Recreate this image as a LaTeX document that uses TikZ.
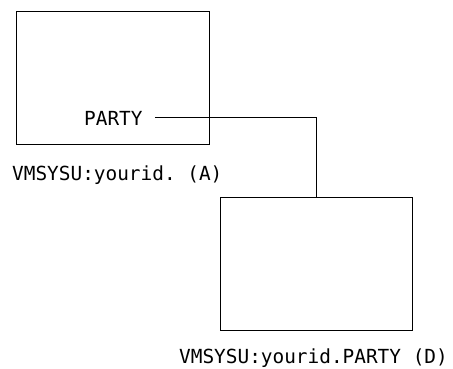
\documentclass[tikz,border=0pt]{standalone}
\usepackage{fontspec}
\setmonofont{DejaVu Sans Mono}
\tikzset{
    box/.style = {draw, line width=1pt, minimum width=193pt, minimum height=133pt, inner sep=0pt},
    lbl/.style = {font=\fontsize{19.4}{22}\ttfamily, inner sep=0pt, anchor=base west}
}
\begin{document}
\begin{tikzpicture}[x=1pt, y=-1pt]
    \useasboundingbox (0,0) rectangle (453,368);
    \node[box] (boxA) at (112.5,77.5) {};
    \node[box, minimum width=192pt] (boxD) at (316,263.5) {};
    \node[lbl] (party) at (84,125) {PARTY};
    \node[lbl] (nameA) at (12,180) {VMSYSU:yourid. (A)};
    \node[lbl] (nameD) at (179,363) {VMSYSU:yourid.PARTY (D)};
    \draw [line width=1pt] ([xshift=12pt]party.east) -| (boxD.north);
\end{tikzpicture}
\end{document}
